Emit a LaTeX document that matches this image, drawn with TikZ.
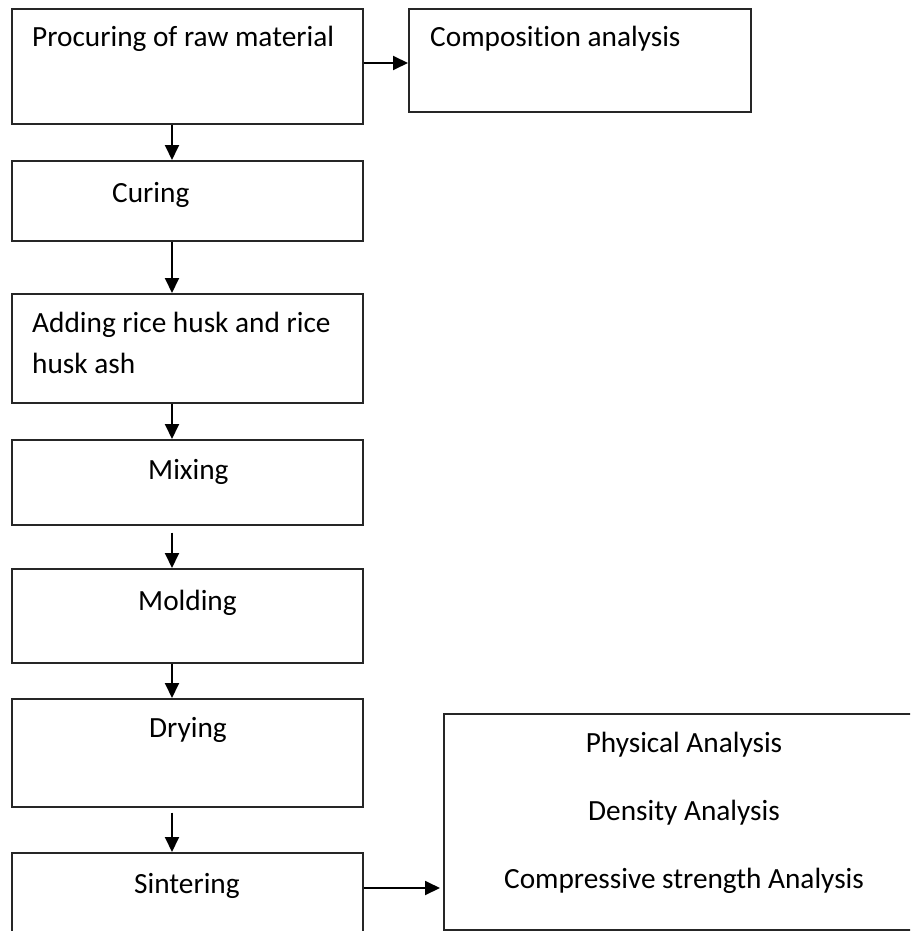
\documentclass[tikz,border=0pt]{standalone}
\usepackage{fontspec}
\setmainfont[Ligatures=NoCommon]{Carlito}
\usetikzlibrary{arrows.meta}
\begin{document}
\begin{tikzpicture}[x=1pt,y=-1pt,
  box/.style={draw=black!85, line width=1.6pt, rectangle, inner sep=0pt, anchor=north west},
  lbl/.style={inner sep=0pt, anchor=base west, font=\fontsize{29.3}{35}\selectfont},
  lblc/.style={inner sep=0pt, anchor=base, font=\fontsize{29.3}{35}\selectfont},
  arr/.style={line width=1.9pt, -{Triangle[length=15pt,width=14pt]}}]
\useasboundingbox (0,0) rectangle (910,931);
\clip (0,0) rectangle (910,931);
% boxes
\node[box, minimum width=351pt, minimum height=115pt] (b1) at (11,8) {};
\node[box, minimum width=342pt, minimum height=103pt] (comp) at (408,8) {};
\node[box, minimum width=351pt, minimum height=80pt] (cur) at (11,160) {};
\node[box, minimum width=351pt, minimum height=109pt] (add) at (11,293) {};
\node[box, minimum width=351pt, minimum height=85pt] (mix) at (11,439) {};
\node[box, minimum width=351pt, minimum height=94pt] (mold) at (11,568) {};
\node[box, minimum width=351pt, minimum height=108pt] (dry) at (11,698) {};
\node[box, minimum width=351pt, minimum height=130pt] (sint) at (11,852) {};
\node[box, minimum width=520pt, minimum height=216pt] (ana) at (443,713) {};
% texts
\node[lbl] (t1) at (32,47) {Procuring of raw material};
\node[lbl] (t2) at (430,47) {Composition analysis};
\node[lbl] (t3) at (112,202) {Curing};
\node[lbl] (t4a) at (32,332) {Adding rice husk and rice};
\node[lbl] (t4b) at (32,373) {husk ash};
\node[lbl] (t5) at (148,479) {Mixing};
\node[lbl] (t6) at (138,610) {Molding};
\node[lbl] (t7) at (149,737) {Drying};
\node[lbl] (t8) at (134,893) {Sintering};
\node[lblc] (t9) at (684,752) {Physical Analysis};
\node[lblc] (t10) at (684,820) {Density Analysis};
\node[lblc] (t11) at (684,888) {Compressive strength Analysis};
% connector guides
\coordinate (ax) at (172,0);
\coordinate (ay1) at (0,63);
\coordinate (ay2) at (0,888);
% connectors
\draw[arr] (b1.south -| ax) -- (cur.north -| ax);
\draw[arr] (cur.south -| ax) -- (add.north -| ax);
\draw[arr] (add.south -| ax) -- (mix.north -| ax);
\draw[arr, shorten <=7pt] (mix.south -| ax) -- (mold.north -| ax);
\draw[arr] (mold.south -| ax) -- (dry.north -| ax);
\draw[arr, shorten <=5pt] (dry.south -| ax) -- (sint.north -| ax);
\draw[arr] (b1.east |- ay1) -- (comp.west |- ay1);
\draw[arr, shorten >=3pt] (sint.east |- ay2) -- (ana.west |- ay2);
\end{tikzpicture}
\end{document}
